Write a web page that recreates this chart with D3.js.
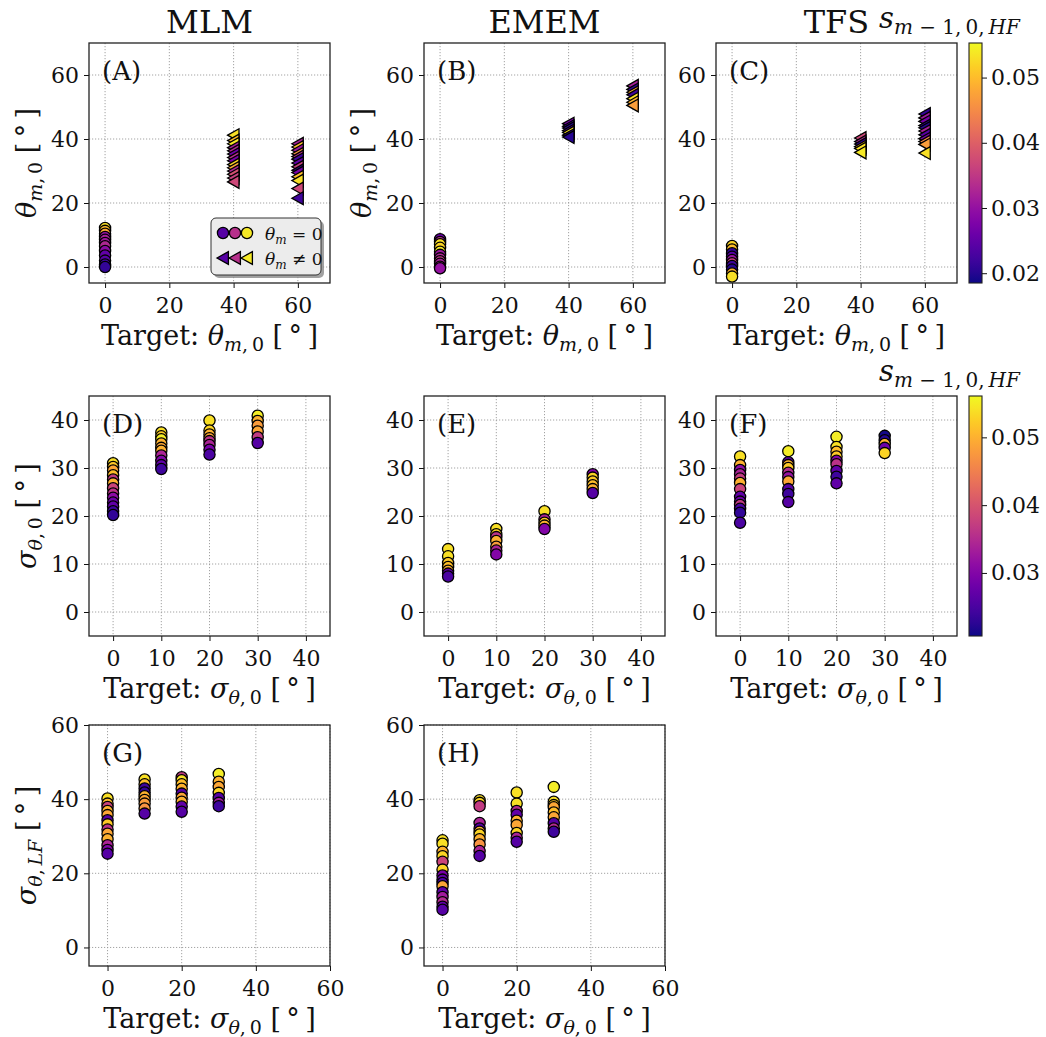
<!DOCTYPE html>
<html>
<head>
<meta charset="utf-8">
<script src="https://cdn.jsdelivr.net/npm/d3@7"></script>
<style>
  html, body { margin: 0; padding: 0; background: #ffffff; }
  svg text { font-family: 'DejaVu Serif', serif; fill: #111; }
</style>
</head>
<body>
<svg id="chart" width="1046" height="1037"></svg>
<script>
// Each estimate is [target, estimated value, s_{m-1,0,HF}]
const mlmTheta = [
  [0,12.2,.053],[0,11.3,.050],[0,10.4,.048],[0,9.4,.030],[0,8.5,.032],[0,7.5,.031],
  [0,6.5,.033],[0,5.0,.029],[0,3.6,.025],[0,2.0,.024],[0,0.8,.022],[0,0.0,.021],
  [40,41.2,.053],[40,39.5,.050],[40,38.5,.054],[40,37.3,.032],[40,36.3,.033],[40,35.3,.026],
  [40,34.2,.034],[40,33.2,.027],[40,32.0,.052],[40,31.0,.048],[40,30.0,.033],[40,29.0,.038],
  [40,27.8,.036],[40,26.6,.037],
  [60,38.5,.032],[60,37.5,.050],[60,36.5,.031],[60,35.4,.046],[60,34.5,.034],[60,33.7,.022],
  [60,32.5,.025],[60,31.3,.036],[60,30.2,.021],[60,29.5,.027],[60,28.2,.050],[60,27.0,.053],
  [60,24.5,.037],[60,21.5,.022]
];
const ememTheta = [
  [0,8.7,.026],[0,7.8,.034],[0,7.1,.053],[0,6.0,.052],[0,4.8,.054],[0,3.8,.031],
  [0,2.7,.033],[0,1.8,.035],[0,1.0,.032],[0,0.1,.033],[0,-0.4,.030],
  [40,44.8,.027],[40,44.0,.022],[40,43.4,.020],[40,42.6,.025],[40,42.0,.053],[40,41.2,.021],[40,40.6,.020],
  [60,56.6,.032],[60,55.5,.021],[60,54.6,.048],[60,53.8,.022],[60,52.6,.053],[60,51.5,.049],[60,50.5,.047]
];
const tfsTheta = [
  [0,6.6,.052],[0,5.5,.050],[0,4.3,.021],[0,3.2,.024],[0,2.2,.030],[0,1.2,.036],
  [0,0.3,.022],[0,-0.8,.020],[0,-2.0,.049],[0,-3.0,.053],
  [40,40.3,.037],[40,39.2,.033],[40,38.4,.021],[40,37.6,.050],[40,37.0,.053],[40,35.8,.054],
  [60,47.8,.021],[60,46.6,.031],[60,45.5,.027],[60,44.2,.021],[60,43.5,.020],[60,42.5,.032],
  [60,41.3,.024],[60,40.1,.027],[60,39.2,.045],[60,38.3,.047],[60,35.6,.053]
];
const mlmSigma = [
  [0,31.0,.054],[0,30.2,.052],[0,29.5,.049],[0,28.5,.051],[0,27.6,.037],[0,26.8,.050],
  [0,25.8,.038],[0,24.7,.036],[0,23.8,.031],[0,22.8,.028],[0,22.0,.027],[0,21.0,.024],[0,20.2,.023],
  [10,37.4,.054],[10,36.6,.052],[10,36.0,.055],[10,35.1,.050],[10,34.2,.049],[10,33.6,.050],
  [10,32.6,.034],[10,31.5,.030],[10,30.6,.027],[10,29.8,.024],
  [20,39.9,.054],[20,37.8,.053],[20,37.0,.050],[20,36.2,.049],[20,35.6,.036],[20,34.8,.034],
  [20,33.8,.029],[20,32.8,.025],
  [30,40.9,.055],[30,39.8,.050],[30,38.8,.048],[30,37.6,.049],[30,36.4,.037],[30,35.2,.026]
];
const ememSigma = [
  [0,13.1,.054],[0,11.6,.054],[0,10.2,.052],[0,9.4,.051],[0,8.6,.050],[0,8.0,.027],[0,7.4,.025],
  [10,17.3,.054],[10,16.2,.053],[10,15.6,.036],[10,14.8,.050],[10,13.6,.048],[10,12.8,.034],[10,12.0,.030],
  [20,21.0,.054],[20,19.3,.034],[20,18.6,.052],[20,18.0,.050],[20,17.3,.030],
  [30,28.7,.030],[30,28.0,.053],[30,27.2,.052],[30,26.4,.051],[30,25.6,.050],[30,24.8,.026]
];
const tfsSigma = [
  [0,32.4,.054],[0,30.6,.050],[0,29.6,.031],[0,28.7,.034],[0,27.8,.037],[0,26.9,.050],
  [0,25.6,.038],[0,24.0,.027],[0,23.0,.028],[0,22.3,.037],[0,21.5,.025],[0,20.7,.023],[0,18.6,.025],
  [10,33.5,.055],[10,31.2,.026],[10,30.6,.050],[10,30.0,.052],[10,29.0,.035],[10,28.1,.032],
  [10,27.2,.049],[10,25.6,.026],[10,24.6,.024],[10,22.9,.026],
  [20,36.5,.055],[20,34.4,.054],[20,33.4,.051],[20,32.4,.052],[20,31.5,.030],[20,30.8,.036],
  [20,29.4,.027],[20,28.2,.024],[20,26.8,.027],
  [30,36.7,.021],[30,35.8,.022],[30,35.0,.050],[30,34.2,.028],[30,33.1,.053]
];
const mlmSigmaLF = [
  [0,40.2,.054],[0,38.8,.051],[0,37.9,.038],[0,36.8,.050],[0,35.7,.049],[0,34.3,.026],
  [0,33.2,.052],[0,31.8,.036],[0,30.7,.049],[0,29.2,.050],[0,27.6,.034],[0,26.3,.030],[0,25.3,.026],
  [10,45.3,.054],[10,44.0,.051],[10,42.9,.024],[10,41.8,.023],[10,40.8,.050],[10,39.8,.049],
  [10,38.8,.048],[10,37.5,.047],[10,36.1,.026],
  [20,45.9,.037],[20,45.1,.054],[20,44.0,.051],[20,42.8,.050],[20,41.5,.026],[20,40.4,.049],
  [20,39.3,.050],[20,38.0,.027],[20,36.6,.026],
  [30,46.8,.055],[30,44.7,.050],[30,43.3,.049],[30,41.7,.053],[30,40.3,.026],[30,39.0,.033],[30,38.1,.024]
];
const ememSigmaLF = [
  [0,28.9,.054],[0,28.0,.054],[0,25.8,.050],[0,24.6,.053],[0,23.1,.038],[0,21.0,.053],
  [0,19.4,.029],[0,18.3,.027],[0,17.4,.025],[0,16.5,.049],[0,14.9,.027],[0,13.6,.033],
  [0,12.2,.035],[0,11.0,.027],[0,10.2,.026],
  [10,39.7,.054],[10,39.0,.053],[10,38.1,.037],[10,33.6,.034],[10,32.1,.026],[10,31.2,.050],
  [10,30.5,.053],[10,29.2,.050],[10,27.8,.047],[10,26.0,.034],[10,24.7,.026],
  [20,41.8,.054],[20,38.8,.054],[20,36.8,.035],[20,35.8,.027],[20,34.2,.050],[20,33.0,.049],
  [20,30.9,.053],[20,29.6,.034],[20,28.5,.026],
  [30,43.3,.055],[30,39.3,.054],[30,38.4,.052],[30,37.8,.049],[30,36.4,.051],[30,35.1,.049],
  [30,33.5,.026],[30,32.1,.035],[30,31.2,.024]
];

// Tick values and colour ranges
const thetaTicks = [0, 20, 40, 60];
const sigmaTicks = [0, 10, 20, 30, 40];
const sigmaLFTicks = [0, 20, 40, 60];
const cbTicksTop = [0.02, 0.03, 0.04, 0.05];
const cbTicksMid = [0.03, 0.04, 0.05];
const cbDomainTop = [0.0185, 0.0553];
const cbDomainMid = [0.0207, 0.0561];
const methodTitles = ["MLM", "EMEM", "TFS"];
const panelLetters = ["(A)", "(B)", "(C)", "(D)", "(E)", "(F)", "(G)", "(H)"];

// Layout
const colLeft = [89, 424, 716];
const rowTop = [43, 396, 725];
const rowH = [240, 240, 241];
const panelW = 241;
const cbX = 969, cbW = 13;
const SERIF = "'DejaVu Serif', serif";
const TICK_FONT = 22;

const svg = d3.select("#chart");
const ink = "#111";

// Math-style label: parts are {t, it, sub}
function mathLabel(sel, parts, size) {
  const subSize = Math.round(size * 0.7);
  let shifted = false;
  parts.forEach(p => {
    const ts = sel.append("tspan").text(p.t)
      .attr("font-size", p.sub ? subSize : size)
      .attr("font-style", p.it ? "italic" : "normal");
    if (p.sub && !shifted) { ts.attr("dy", size * 0.22); shifted = true; }
    else if (!p.sub && shifted) { ts.attr("dy", -size * 0.22); shifted = false; }
  });
  return sel;
}
const T = "\u2009";
const thetaSym = [{t:"θ", it:true}, {t:"m", it:true, sub:true}, {t:"," + T + "0", sub:true}];
const sigmaSym = [{t:"σ", it:true}, {t:"θ", it:true, sub:true}, {t:"," + T + "0", sub:true}];
const sigmaLFSym = [{t:"σ", it:true}, {t:"θ", it:true, sub:true}, {t:"," + T, sub:true}, {t:"LF", it:true, sub:true}];
const deg = [{t:" [" + T + "°" + T + "]"}];
const xLabelTheta = [{t:"Target: "}].concat(thetaSym, deg);
const xLabelSigma = [{t:"Target: "}].concat(sigmaSym, deg);
const cbLabel = [{t:"s", it:true}, {t:"m", it:true, sub:true}, {t:" − 1," + T + "0," + T, sub:true}, {t:"HF", it:true, sub:true}];

const panels = [
  {data: mlmTheta,   c:0, r:0, dom:[-5,70], xt:thetaTicks,   yt:thetaTicks,   xl:xLabelTheta, yl:thetaSym.concat(deg), tri:true, legend:true},
  {data: ememTheta,  c:1, r:0, dom:[-5,70], xt:thetaTicks,   yt:thetaTicks,   xl:xLabelTheta, yl:thetaSym.concat(deg), tri:true},
  {data: tfsTheta,   c:2, r:0, dom:[-5,70], xt:thetaTicks,   yt:thetaTicks,   xl:xLabelTheta, yl:null, tri:true},
  {data: mlmSigma,   c:0, r:1, dom:[-5,45], xt:sigmaTicks,   yt:sigmaTicks,   xl:xLabelSigma, yl:sigmaSym.concat(deg)},
  {data: ememSigma,  c:1, r:1, dom:[-5,45], xt:sigmaTicks,   yt:sigmaTicks,   xl:xLabelSigma, yl:null},
  {data: tfsSigma,   c:2, r:1, dom:[-5,45], xt:sigmaTicks,   yt:sigmaTicks,   xl:xLabelSigma, yl:null},
  {data: mlmSigmaLF, c:0, r:2, dom:[-5,60], xt:sigmaLFTicks, yt:sigmaLFTicks, xl:xLabelSigma, yl:sigmaLFSym.concat(deg)},
  {data: ememSigmaLF,c:1, r:2, dom:[-5,60], xt:sigmaLFTicks, yt:sigmaLFTicks, xl:xLabelSigma, yl:null}
];

const colorTop = d3.scaleSequential(d3.interpolatePlasma).domain(cbDomainTop);
const colorMid = d3.scaleSequential(d3.interpolatePlasma).domain(cbDomainMid);

const triPath = "M-6,0L5.4,-6.4L5.4,6.4Z";

function styleAxis(a) {
  a.attr("font-family", SERIF).attr("font-size", TICK_FONT);
  a.select(".domain").remove();
  a.selectAll(".tick line").attr("stroke", ink).attr("stroke-width", 1);
  a.selectAll(".tick text").attr("fill", ink)
    .attr("font-family", SERIF).attr("font-size", TICK_FONT);
}

panels.forEach((p, i) => {
  const x0 = colLeft[p.c], y0 = rowTop[p.r], h = rowH[p.r];
  const x = d3.scaleLinear().domain(p.dom).range([x0, x0 + panelW]);
  const y = d3.scaleLinear().domain(p.dom).range([y0 + h, y0]);
  const color = p.r === 0 ? colorTop : colorMid;
  const g = svg.append("g");

  // dotted grid
  g.append("g").selectAll("line").data(p.xt).join("line")
    .attr("x1", d => x(d)).attr("x2", d => x(d)).attr("y1", y0).attr("y2", y0 + h)
    .attr("stroke", "#999").attr("stroke-width", 0.9).attr("stroke-dasharray", "1.2,1.8");
  g.append("g").selectAll("line").data(p.yt).join("line")
    .attr("y1", d => y(d)).attr("y2", d => y(d)).attr("x1", x0).attr("x2", x0 + panelW)
    .attr("stroke", "#999").attr("stroke-width", 0.9).attr("stroke-dasharray", "1.2,1.8");

  // axes
  const xa = g.append("g").attr("transform", `translate(0,${y0 + h})`)
    .call(d3.axisBottom(x).tickValues(p.xt).tickSize(5).tickPadding(5).tickFormat(d3.format("d")));
  const ya = g.append("g").attr("transform", `translate(${x0},0)`)
    .call(d3.axisLeft(y).tickValues(p.yt).tickSize(5).tickPadding(5).tickFormat(d3.format("d")));
  styleAxis(xa); styleAxis(ya);
  xa.selectAll(".tick text").attr("dy", "0.9em");

  // markers
  const pts = g.append("g");
  p.data.forEach(d => {
    const cx = x(d[0]), cy = y(d[1]);
    if (p.tri && d[0] !== 0) {
      pts.append("path").attr("d", triPath).attr("transform", `translate(${cx},${cy})`)
        .attr("fill", color(d[2])).attr("stroke", "#000").attr("stroke-width", 1.3);
    } else {
      pts.append("circle").attr("cx", cx).attr("cy", cy).attr("r", 5.6)
        .attr("fill", color(d[2])).attr("stroke", "#000").attr("stroke-width", 1.3);
    }
  });

  // frame
  g.append("rect").attr("x", x0).attr("y", y0).attr("width", panelW).attr("height", h)
    .attr("fill", "none").attr("stroke", "#222").attr("stroke-width", 1.3);

  // panel letter
  g.append("text").attr("x", x0 + 13).attr("y", y0 + 37).attr("font-size", 26).text(panelLetters[i]);

  // axis labels
  mathLabel(g.append("text").attr("x", x0 + panelW / 2).attr("y", y0 + h + 62)
    .attr("text-anchor", "middle"), p.xl, 27);
  if (p.yl) {
    mathLabel(g.append("text").attr("text-anchor", "middle")
      .attr("transform", `translate(${x0 - 53},${y0 + h / 2}) rotate(-90)`), p.yl, 27);
  }

  if (p.legend) {
    const lx = 211, ly = 218, lw = 110, lh = 57;
    g.append("rect").attr("x", lx + 3).attr("y", ly + 3).attr("width", lw).attr("height", lh)
      .attr("rx", 5).attr("fill", "#8a8a8a").attr("opacity", 0.8);
    g.append("rect").attr("x", lx).attr("y", ly).attr("width", lw).attr("height", lh)
      .attr("rx", 5).attr("fill", "#ececec").attr("stroke", "#333").attr("stroke-width", 1);
    const legCols = [0.024, 0.034, 0.054];
    legCols.forEach((s, k) => {
      g.append("circle").attr("cx", lx + 12 + k * 12).attr("cy", ly + 15).attr("r", 5.6)
        .attr("fill", colorTop(s)).attr("stroke", "#000").attr("stroke-width", 1.3);
      g.append("path").attr("d", triPath)
        .attr("transform", `translate(${lx + 12 + k * 12},${ly + 40})`)
        .attr("fill", colorTop(s)).attr("stroke", "#000").attr("stroke-width", 1.3);
    });
    mathLabel(g.append("text").attr("x", lx + 54).attr("y", ly + 22),
      [{t:"θ", it:true}, {t:"m", it:true, sub:true}, {t:" = 0"}], 17);
    mathLabel(g.append("text").attr("x", lx + 54).attr("y", ly + 47),
      [{t:"θ", it:true}, {t:"m", it:true, sub:true}, {t:" ≠ 0"}], 17);
  }
});

// column titles
methodTitles.forEach((t, k) => {
  svg.append("text").attr("x", colLeft[k] + panelW / 2).attr("y", 33)
    .attr("text-anchor", "middle").attr("font-size", 32).text(t);
});

// colour bars
const defs = svg.append("defs");
const grad = defs.append("linearGradient").attr("id", "plasmaGrad")
  .attr("x1", 0).attr("y1", 1).attr("x2", 0).attr("y2", 0);
d3.range(0, 1.0001, 0.05).forEach(t => {
  grad.append("stop").attr("offset", t).attr("stop-color", d3.interpolatePlasma(t));
});
[{r:0, dom:cbDomainTop, ticks:cbTicksTop}, {r:1, dom:cbDomainMid, ticks:cbTicksMid}].forEach(cb => {
  const y0 = rowTop[cb.r], h = rowH[cb.r];
  const s = d3.scaleLinear().domain(cb.dom).range([y0 + h, y0]);
  const g = svg.append("g");
  g.append("rect").attr("x", cbX).attr("y", y0).attr("width", cbW).attr("height", h)
    .attr("fill", "url(#plasmaGrad)");
  g.append("rect").attr("x", cbX).attr("y", y0).attr("width", cbW).attr("height", h)
    .attr("fill", "none").attr("stroke", "#222").attr("stroke-width", 1.1);
  const a = g.append("g").attr("transform", `translate(${cbX + cbW},0)`)
    .call(d3.axisRight(s).tickValues(cb.ticks).tickSize(5).tickPadding(4).tickFormat(d3.format(".2f")));
  styleAxis(a);
  mathLabel(g.append("text").attr("x", 879).attr("y", y0 - 15), cbLabel, 29);
});
</script>
</body>
</html>
